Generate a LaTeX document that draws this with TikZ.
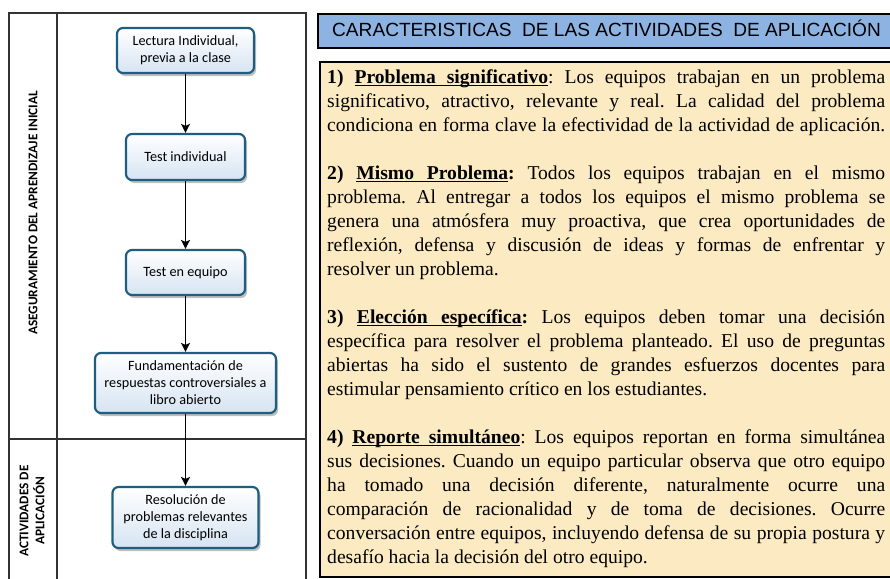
\documentclass[tikz,border=0pt]{standalone}
\usepackage{fontspec}
\setmainfont{Liberation Serif}
\newfontfamily\calibri{Carlito}
\newfontfamily\arialf{Liberation Sans}
\usetikzlibrary{arrows.meta,shadows}
\definecolor{boxborder}{HTML}{1F5E80}
\definecolor{boxfill}{HTML}{D6E4F2}
\definecolor{headfill}{HTML}{8DB3E2}
\definecolor{textfill}{HTML}{FCEBC2}
\definecolor{framecol}{HTML}{333333}
\newsavebox\myulbox
\newcommand\myulw[1]{\sbox\myulbox{#1}\rlap{\rule[-3pt]{\wd\myulbox}{1.2pt}}\usebox\myulbox}
\newcommand\myulsp{\leaders\hrule height -1.8pt depth 3pt\hskip\fontdimen2\font plus\fontdimen3\font minus\fontdimen4\font\relax}
\tikzset{
  flowbox/.style={draw=boxborder, line width=2.2pt, rounded corners=6pt,
    top color=white, bottom color=boxfill, align=center, inner sep=0pt,
    font=\calibri\fontsize{14.2}{17}\selectfont,
    drop shadow={shadow xshift=2pt, shadow yshift=-3pt, opacity=0.25, fill=black}},
  flowarrow/.style={draw=black, line width=1.4pt, -{Stealth[length=9pt,width=9pt,inset=2pt]}},
  lanelabel/.style={rotate=90, align=center, inner sep=0pt,
    font=\calibri\bfseries\fontsize{13.3}{16}\selectfont},
  frameline/.style={draw=framecol, line width=1.3pt}
}
\begin{document}
\begin{tikzpicture}[x=1pt,y=-1pt]
\useasboundingbox (0,0) rectangle (890,578);
\clip (0,0) rectangle (890,578);
\fill[white] (0,0) rectangle (890,578);
% left swimlane frame
\draw[frameline] (9,600) -- (9,13) -- (306,13) -- (306,600);
\draw[frameline] (57,13) -- (57,600);
\draw[frameline] (9,439) -- (306,439);
\node[lanelabel] (lane1) at (33,213) {ASEGURAMIENTO DEL APRENDIZAJE INICIAL};
\node[lanelabel] (lane2) at (32,511) {ACTIVIDADES DE\\APLICACIÓN};
% flow boxes
\node[flowbox, minimum width=137pt, minimum height=45pt] (n1) at (185.5,50.5) {Lectura Individual,\\previa a la clase};
\node[flowbox, minimum width=119pt, minimum height=46pt] (n2) at (185.5,157) {Test individual};
\node[flowbox, minimum width=119pt, minimum height=45pt] (n3) at (185.5,272.5) {Test en equipo};
\node[flowbox, minimum width=181pt, minimum height=60pt] (n4) at (185.5,383) {Fundamentación de\\respuestas controversiales a\\libro abierto};
\node[flowbox, minimum width=146pt, minimum height=61pt] (n5) at (185.5,517.5) {Resolución de\\problemas relevantes\\de la disciplina};
\draw[flowarrow] (n1.south) -- (n2.north);
\draw[flowarrow] (n2.south) -- (n3.north);
\draw[flowarrow] (n3.south) -- (n4.north);
\draw[flowarrow] (n4.south) -- (n5.north);
% header
\node[draw=black, line width=1.8pt, fill=headfill, anchor=north west, minimum width=650pt, minimum height=34pt, inner sep=0pt] (head) at (317,13) {};
\node[anchor=base west, inner sep=0pt, font=\arialf\fontsize{19.1}{22}\selectfont] (headtext) at (332,36.7) {CARACTERISTICAS\ \ DE LAS ACTIVIDADES\ \ DE APLICACIÓN};
% text box
\node[draw=black, line width=1.8pt, fill=textfill, anchor=north west, minimum width=650pt, minimum height=515pt, inner sep=0pt] (tbox) at (319,61) {};
\node[anchor=north west, inner sep=0pt, text width=558pt, align=justify] (body) at (327,65) {%
\fontsize{19.6}{24}\selectfont\frenchspacing\setlength{\parskip}{24pt}\setlength{\parindent}{0pt}%
\tolerance=10000\hbadness=10000\emergencystretch=20pt
{\parfillskip=0pt \rule{0pt}{18pt}\textbf{1) \myulw{Problema}\myulsp\myulw{significativo}}: Los equipos trabajan en un problema\linebreak
significativo, atractivo, relevante y real. La calidad del problema\linebreak
condiciona en forma clave la efectividad de la actividad de aplicación.\par}
\textbf{2) \myulw{Mismo}\myulsp\myulw{Problema}:} Todos los equipos trabajan en el mismo\linebreak
problema. Al entregar a todos los equipos el mismo problema se\linebreak
genera una atmósfera muy proactiva, que crea oportunidades de\linebreak
reflexión, defensa y discusión de ideas y formas de enfrentar y\linebreak
resolver un problema.\par
\textbf{3) \myulw{Elección}\myulsp\myulw{específica}:} Los equipos deben tomar una decisión\linebreak
específica para resolver el problema planteado. El uso de preguntas\linebreak
abiertas ha sido el sustento de grandes esfuerzos docentes para\linebreak
estimular pensamiento crítico en los estudiantes.\par
\textbf{4) \myulw{Reporte}\myulsp\myulw{simultáneo}}: Los equipos reportan en forma simultánea\linebreak
sus decisiones. Cuando un equipo particular observa que otro equipo\linebreak
ha tomado una decisión diferente, naturalmente ocurre una\linebreak
comparación de racionalidad y de toma de decisiones. Ocurre\linebreak
conversación entre equipos, incluyendo defensa de su propia postura y\linebreak
desafío hacia la decisión del otro equipo.\par};
\end{tikzpicture}
\end{document}
